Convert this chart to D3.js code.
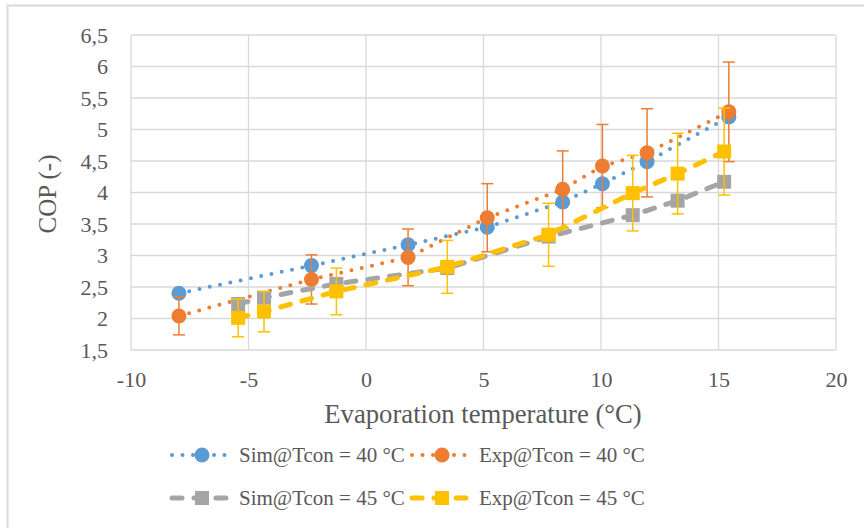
<!DOCTYPE html>
<html><head><meta charset="utf-8">
<script src="https://cdn.jsdelivr.net/npm/d3@7"></script>
<style>html,body{margin:0;padding:0;background:#fff;}svg{display:block;}
svg text{font-family:"Liberation Serif","Times New Roman",Tinos,"DejaVu Serif",serif;}</style>
</head><body>
<svg id="chart" width="864" height="528"></svg>
<script>
// ---- data ----
const xTcon40 = [-7.96, -2.32, 1.79, 5.16, 8.37, 10.06, 11.96, 15.44];
const simTcon40 = [2.40, 2.84, 3.17, 3.45, 3.85, 4.14, 4.49, 5.20];
const expTcon40 = [2.04, 2.62, 2.97, 3.60, 4.05, 4.42, 4.63, 5.28];
const errTcon40 = [0.30, 0.39, 0.45, 0.54, 0.61, 0.66, 0.70, 0.79];
const xTcon45 = [-5.44, -4.34, -1.26, 3.46, 7.77, 11.35, 13.26, 15.24];
const simTcon45 = [2.23, 2.33, 2.55, 2.80, 3.30, 3.64, 3.87, 4.17];
const expTcon45 = [2.01, 2.11, 2.43, 2.82, 3.33, 3.99, 4.30, 4.65];
const errTcon45 = [0.30, 0.32, 0.37, 0.42, 0.50, 0.60, 0.64, 0.69];
const xTicks = [-10, -5, 0, 5, 10, 15, 20];
const yTicks = [1.5, 2, 2.5, 3, 3.5, 4, 4.5, 5, 5.5, 6, 6.5];
const seriesNames = ["Sim@Tcon = 40 °C", "Exp@Tcon = 40 °C", "Sim@Tcon = 45 °C", "Exp@Tcon = 45 °C"];

const series = [
  {name: seriesNames[0], xs: xTcon40, ys: simTcon40, err: null, color: "#5B9BD5", shape: "circle", style: "dot"},
  {name: seriesNames[1], xs: xTcon40, ys: expTcon40, err: errTcon40, color: "#ED7D31", shape: "circle", style: "dot"},
  {name: seriesNames[2], xs: xTcon45, ys: simTcon45, err: null, color: "#A5A5A5", shape: "square", style: "dash"},
  {name: seriesNames[3], xs: xTcon45, ys: expTcon45, err: errTcon45, color: "#FFC000", shape: "square", style: "dash"}
];

const svg = d3.select("#chart");
const font = "\"Liberation Serif\", \"Times New Roman\", Tinos, \"DejaVu Serif\", serif";
const textColor = "#595959";
const gridColor = "#D9D9D9";

// outer border
svg.append("rect").attr("x", 7.5).attr("y", 5.5).attr("width", 900).attr("height", 600)
  .attr("fill", "none").attr("stroke", gridColor).attr("stroke-width", 2);

const x = d3.scaleLinear().domain([-10, 20]).range([131, 836]);
const y = d3.scaleLinear().domain([1.5, 6.5]).range([350, 35]);

// gridlines
const g = svg.append("g");
g.selectAll("line.h").data(yTicks).join("line")
  .attr("x1", x(-10)).attr("x2", x(20)).attr("y1", d => y(d)).attr("y2", d => y(d))
  .attr("stroke", gridColor).attr("stroke-width", 1.3);
g.selectAll("line.v").data(xTicks).join("line")
  .attr("y1", y(1.5)).attr("y2", y(6.5)).attr("x1", d => x(d)).attr("x2", d => x(d))
  .attr("stroke", gridColor).attr("stroke-width", 1.3);

// axes (labels only)
const xAxis = d3.axisBottom(x).tickValues(xTicks).tickSize(0).tickPadding(0).tickFormat(d => String(d));
const gx = svg.append("g").attr("transform", `translate(0,${y(1.5)})`).call(xAxis);
gx.attr("font-family", null);
gx.select(".domain").remove();
gx.selectAll("text").attr("dy", null).attr("y", 37).style("font-family", font).attr("font-size", 22).attr("fill", textColor);

const yAxis = d3.axisLeft(y).tickValues(yTicks).tickSize(0).tickPadding(0).tickFormat(d => String(d).replace(".", ","));
const gy = svg.append("g").attr("transform", `translate(108,0)`).call(yAxis);
gy.attr("font-family", null);
gy.select(".domain").remove();
gy.selectAll("text").attr("dy", "0.32em").attr("x", 0).style("font-family", font).attr("font-size", 22).attr("fill", textColor);

// axis titles
svg.append("text").attr("x", 483).attr("y", 423).attr("text-anchor", "middle")
  .style("font-family", font).attr("font-size", 26.7).attr("fill", textColor)
  .text("Evaporation temperature (°C)");
svg.append("text").attr("transform", "translate(56,194) rotate(-90)").attr("text-anchor", "middle")
  .style("font-family", font).attr("font-size", 25).attr("fill", textColor)
  .text("COP (-)");

function styleLine(sel, s) {
  if (s.style === "dot") {
    sel.attr("stroke-width", 4).attr("stroke-dasharray", "0 10.5").attr("stroke-linecap", "round");
  } else {
    sel.attr("stroke-width", 5).attr("stroke-dasharray", "10 12").attr("stroke-linecap", "round");
  }
  return sel;
}
function drawMarker(sel, s, cx, cy) {
  if (s.shape === "circle") {
    sel.append("circle").attr("cx", cx).attr("cy", cy).attr("r", 7.5).attr("fill", s.color);
  } else {
    sel.append("rect").attr("x", cx - 7).attr("y", cy - 7).attr("width", 14).attr("height", 14).attr("fill", s.color);
  }
}

const line = d3.line().x(d => x(d[0])).y(d => y(d[1]));

series.forEach(s => {
  const pts = s.xs.map((v, i) => [v, s.ys[i]]);
  const sg = svg.append("g");
  if (s.err) {
    pts.forEach((p, i) => {
      const e = s.err[i];
      const cx = x(p[0]);
      sg.append("line").attr("x1", cx).attr("x2", cx).attr("y1", y(p[1] - e)).attr("y2", y(p[1] + e))
        .attr("stroke", s.color).attr("stroke-width", 1.5);
      [p[1] - e, p[1] + e].forEach(v => {
        sg.append("line").attr("x1", cx - 6).attr("x2", cx + 6).attr("y1", y(v)).attr("y2", y(v))
          .attr("stroke", s.color).attr("stroke-width", 1.5);
      });
    });
  }
  styleLine(sg.append("path").attr("d", line(pts)).attr("fill", "none").attr("stroke", s.color), s);
  pts.forEach(p => drawMarker(sg, s, x(p[0]), y(p[1])));
});

// legend
const legendPos = [[172, 455], [412, 455], [172, 498], [412, 498]];
series.forEach((s, i) => {
  const [lx, ly] = legendPos[i];
  const lg = svg.append("g");
  styleLine(lg.append("line").attr("x1", lx).attr("x2", lx + 60).attr("y1", ly).attr("y2", ly)
    .attr("stroke", s.color), s);
  drawMarker(lg, s, lx + 30, ly);
  lg.append("text").attr("x", lx + 67).attr("y", ly).attr("dy", "0.33em")
    .style("font-family", font).attr("font-size", 21).attr("fill", textColor).text(s.name);
});
</script>
</body></html>
